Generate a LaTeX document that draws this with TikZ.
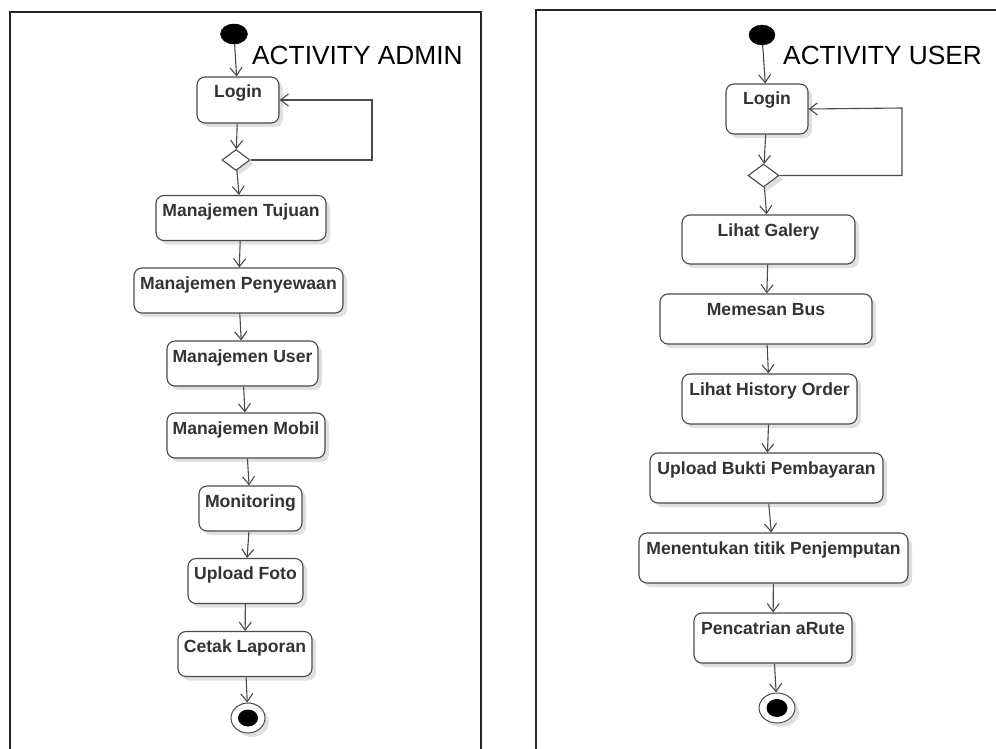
\documentclass[tikz,border=0pt]{standalone}
\usepackage{fontspec}
\setmainfont{Liberation Sans}
\usetikzlibrary{arrows.meta,shapes.geometric,shadows}
\definecolor{linegray}{HTML}{4A4A4A}
\definecolor{txtgray}{HTML}{333333}
\begin{document}
\begin{tikzpicture}[x=1pt,y=-1pt,
  shd/.style={drop shadow={shadow xshift=4pt,shadow yshift=-4pt,fill=black,opacity=0.12}},
  act/.style={draw=linegray, line width=1.1pt, rounded corners=8pt, fill=white, text=txtgray,
    font=\bfseries\fontsize{17.6}{17.6}\selectfont, inner sep=0pt, text height=21pt, shd},
  act45/.style={act, text depth=24pt},
  act50/.style={act, text depth=29pt},
  startnode/.style={ellipse, fill=black, draw=black, inner sep=0pt},
  endouter/.style={ellipse, draw=linegray, line width=1pt, fill=white, inner sep=0pt, shd},
  endinner/.style={ellipse, fill=black, inner sep=0pt},
  decision/.style={diamond, draw=linegray, line width=1.1pt, fill=white, inner sep=0pt, shd},
  flow/.style={draw=linegray, line width=1.1pt, -{Straight Barb[length=8pt,width=12pt,line width=1.1pt]}},
  frame/.style={draw=black!85, line width=2.5pt},
  title/.style={anchor=base west, inner sep=0pt, font=\fontsize{26.3}{26.3}\selectfont}
]
\useasboundingbox (0,0) rectangle (996,749);
\fill[white] (0,0) rectangle (996,749);

% frames
\draw[frame] (10,749) -- (10,12) -- (481,12) -- (481,749);
\draw[frame] (536,749) -- (536,10) -- (996,10);

% ---------------- ADMIN ----------------
\node[title] (tA) at (252,65) {ACTIVITY ADMIN};
\node[startnode, minimum width=27pt, minimum height=20pt] (sA) at (234,34) {};
\node[act, text depth=25pt, minimum width=82pt] (loginA) at (238,100) {Login};
\node[decision, minimum width=28pt, minimum height=21pt] (dA) at (236,160) {};
\node[act45, minimum width=170pt] (a1) at (241,218) {Manajemen Tujuan};
\node[act45, minimum width=209pt] (a2) at (238.5,290.5) {Manajemen Penyewaan};
\node[act45, minimum width=151pt] (a3) at (242.5,363.5) {Manajemen User};
\node[act45, minimum width=158pt] (a4) at (246,435.5) {Manajemen Mobil};
\node[act45, minimum width=103pt] (a5) at (250.5,508.5) {Monitoring};
\node[act45, minimum width=115pt] (a6) at (245.5,581) {Upload Foto};
\node[act45, minimum width=134pt] (a7) at (245,654) {Cetak Laporan};
\node[endouter, minimum width=34pt, minimum height=30pt] (eA) at (248,718) {};
\node[endinner, minimum width=20pt, minimum height=17pt] (eAi) at (248,718) {};
\coordinate (loopA) at (372,100);

\draw[flow] (sA) -- (loginA);
\draw[flow] (loginA) -- (dA);
\draw[flow] (dA.east) -| (loopA) -- (loginA.east);
\draw[flow] (dA) -- (a1);
\draw[flow] (a1) -- (a2);
\draw[flow] (a2) -- (a3);
\draw[flow] (a3) -- (a4);
\draw[flow] (a4) -- (a5);
\draw[flow] (a5) -- (a6);
\draw[flow] (a6) -- (a7);
\draw[flow] (a7) -- (eA);

% ---------------- USER ----------------
\node[title] (tU) at (783,65) {ACTIVITY USER};
\node[startnode, minimum width=26pt, minimum height=20pt] (sU) at (762,35) {};
\node[act50, minimum width=82pt] (loginU) at (767,109) {Login};
\node[decision, minimum width=31pt, minimum height=23pt] (dU) at (763.5,175.5) {};
\node[act, text depth=28pt, minimum width=173pt] (u1) at (768.5,239.5) {Lihat Galery};
\node[act50, minimum width=212pt] (u2) at (766,319) {Memesan Bus};
\node[act50, minimum width=175pt] (u3) at (769.5,399) {Lihat History Order};
\node[act50, minimum width=233pt] (u4) at (766.5,478) {Upload Bukti Pembayaran};
\node[act50, minimum width=269pt] (u5) at (773.5,558) {Menentukan titik Penjemputan};
\node[act50, minimum width=158pt] (u6) at (773,638) {Pencatrian aRute};
\node[endouter, minimum width=36pt, minimum height=30pt] (eU) at (777,708) {};
\node[endinner, minimum width=21pt, minimum height=18pt] (eUi) at (777,708) {};
\coordinate (loopU) at (902,108);

\draw[flow] (sU) -- (loginU);
\draw[flow] (loginU) -- (dU);
\draw[flow] (dU.east) -| (loopU) -- (loginU.east);
\draw[flow] (dU) -- (u1);
\draw[flow] (u1) -- (u2);
\draw[flow] (u2) -- (u3);
\draw[flow] (u3) -- (u4);
\draw[flow] (u4) -- (u5);
\draw[flow] (u5) -- (u6);
\draw[flow] (u6) -- (eU);
\end{tikzpicture}
\end{document}
